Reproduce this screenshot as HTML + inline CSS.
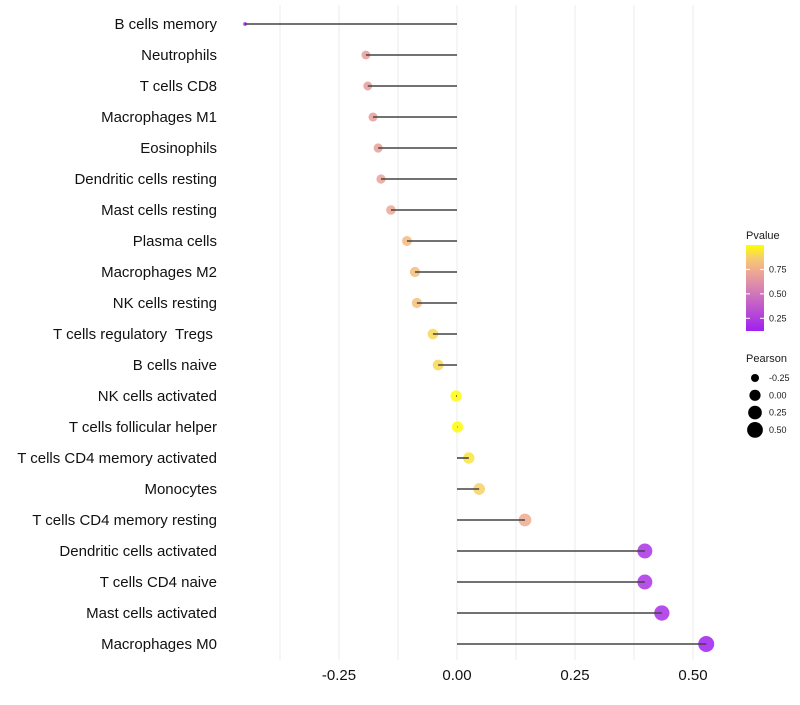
<!DOCTYPE html>
<html><head><meta charset="utf-8"><style>
body{margin:0;background:#fff;font-family:"Liberation Sans",sans-serif}
text{white-space:pre}
</style></head><body>
<svg id="c" width="800" height="700" xmlns="http://www.w3.org/2000/svg">
<defs><linearGradient id="pg" x1="0" y1="1" x2="0" y2="0">
<stop offset="0" stop-color="#a020f0"/><stop offset="0.45" stop-color="#d27ab8"/><stop offset="0.7" stop-color="#eeaa90"/><stop offset="0.85" stop-color="#f6cc70"/><stop offset="1" stop-color="#ffff00"/>
</linearGradient></defs>
<g id="grid"></g><g id="marks"></g><g id="labels"></g><g id="legend"></g>
</svg>
<script>
const categories=["B cells memory","Neutrophils","T cells CD8","Macrophages M1","Eosinophils","Dendritic cells resting","Mast cells resting","Plasma cells","Macrophages M2","NK cells resting","T cells regulatory  Tregs ","B cells naive","NK cells activated","T cells follicular helper","T cells CD4 memory activated","Monocytes","T cells CD4 memory resting","Dendritic cells activated","T cells CD4 naive","Mast cells activated","Macrophages M0"];
const pearson=[-0.449,-0.193,-0.189,-0.178,-0.167,-0.161,-0.140,-0.106,-0.089,-0.085,-0.051,-0.040,-0.002,0.001,0.025,0.047,0.144,0.398,0.398,0.434,0.528];
const pvalue=[0.12,0.67,0.67,0.68,0.69,0.7,0.72,0.8,0.81,0.82,0.9,0.9,0.99,0.99,0.93,0.88,0.74,0.2,0.2,0.18,0.12];
const xTicks=[-0.25,0,0.25,0.5];
const xTickLabels=["-0.25","0.00","0.25","0.50"];
const pTicks=[0.25,0.5,0.75];
const sizeBreaks=[-0.25,0,0.25,0.5];
const NS="http://www.w3.org/2000/svg";
const X=v=>457+v*472, Y=i=>24+i*31;
const smin=-0.46,smax=0.53;
const R=p=>{const t=Math.max(0,(p-smin)/(smax-smin));return Math.sqrt(3+(8*8-3)*t);};
const stops=[[0,[160,32,240]],[0.45,[210,122,184]],[0.7,[238,170,144]],[0.85,[246,204,112]],[1,[255,255,0]]];
const pmin=0.12,pmax=1.0;
function col(p){let t=(p-pmin)/(pmax-pmin);t=Math.max(0,Math.min(1,t));for(let k=1;k<stops.length;k++){if(t<=stops[k][0]){const a=stops[k-1],b=stops[k],u=(t-a[0])/(b[0]-a[0]);return"rgb("+a[1].map((c,j)=>Math.round(c+(b[1][j]-c)*u)).join(",")+")";}}return"rgb(255,255,0)";}
function mk(t,a,parent){const e=document.createElementNS(NS,t);for(const k in a)e.setAttribute(k,a[k]);parent.appendChild(e);return e;}
const grid=document.getElementById('grid'),marks=document.getElementById('marks'),labels=document.getElementById('labels'),leg=document.getElementById('legend');
for(let v=-0.375;v<=0.6;v+=0.125){const g=mk('line',{x1:X(v),x2:X(v),y1:5,y2:660,stroke:'#ebebeb','stroke-width':1},grid);

}
xTicks.forEach((v,i)=>{const t=mk('text',{x:X(v),y:680,'text-anchor':'middle','font-size':15,fill:'#111'},labels);t.textContent=xTickLabels[i];

});
categories.forEach((c,i)=>{
const t=mk('text',{x:217,y:Y(i)+5,'text-anchor':'end','font-size':15,fill:'#111'},labels);t.textContent=c;


const d=mk('circle',{cx:X(pearson[i]),cy:Y(i),r:R(pearson[i]),fill:col(pvalue[i]),'fill-opacity':0.85},marks);


const l=mk('line',{x1:X(0),x2:X(pearson[i]),y1:Y(i),y2:Y(i),stroke:'#444','stroke-width':1.6},marks);


});
let t=mk('text',{x:746,y:239,'font-size':11,fill:'#1a1a1a'},leg);t.textContent='Pvalue';


const bar=mk('rect',{x:746,y:245,width:18,height:86,fill:'url(#pg)'},leg);


const PY=p=>331-(p-pmin)/(pmax-pmin)*86;
pTicks.forEach(p=>{const tl=mk('line',{x1:746,x2:750,y1:PY(p),y2:PY(p),stroke:'#fff'},leg);
mk('line',{x1:760,x2:764,y1:PY(p),y2:PY(p),stroke:'#fff'},leg);
const tx=mk('text',{x:769,y:PY(p)+3,'font-size':9,fill:'#1a1a1a'},leg);tx.textContent=p.toFixed(2);

});
t=mk('text',{x:746,y:362,'font-size':11,fill:'#1a1a1a'},leg);t.textContent='Pearson';


sizeBreaks.forEach((s,i)=>{const y=378+i*17.3;const c=mk('circle',{cx:755,cy:y,r:R(s),fill:'#000'},leg);


const tx=mk('text',{x:769,y:y+3,'font-size':9,fill:'#1a1a1a'},leg);tx.textContent=s.toFixed(2);

});
</script>
</body></html>
